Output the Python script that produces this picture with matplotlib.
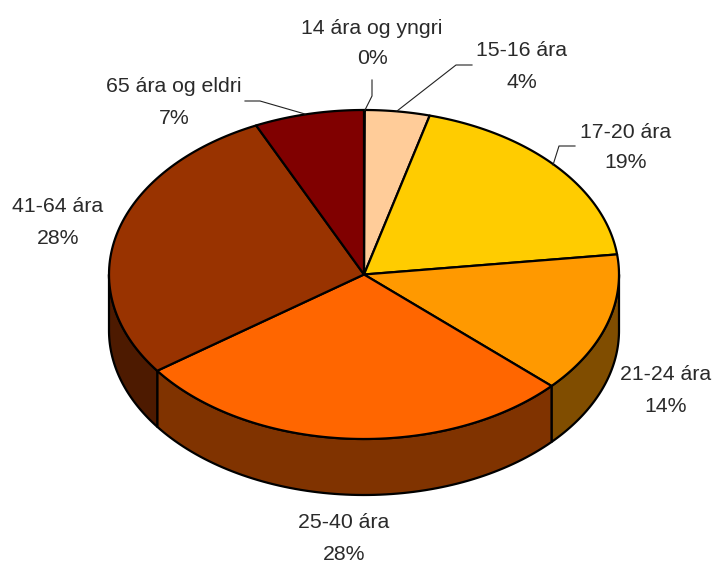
import numpy as np
import matplotlib
matplotlib.use('Agg')
import matplotlib.pyplot as plt
from matplotlib.patches import Polygon

categories = ['14 ára og yngri', '15-16 ára', '17-20 ára', '21-24 ára',
              '25-40 ára', '41-64 ára', '65 ára og eldri']
values = [0.05, 4.1, 18.9, 13.8, 28.2, 28.0, 6.95]
percent_labels = ['0%', '4%', '19%', '14%', '28%', '28%', '7%']

top_colors = ['#FFFF99', '#FFCC99', '#FFCC00', '#FF9900', '#FF6600', '#993300', '#800000']
side_colors = ['#808050', '#80664D', '#806600', '#804D00', '#803300', '#4D1A00', '#400000']

# label centres in pixels, name line then percent line
label_x = [372, 522, 626, 666, 344, 58, 174]
name_y = [28, 50, 132, 375, 522, 206, 86]
pct_y = [59, 82, 163, 407, 554, 239, 118]

# leader lines
leaders = {
    0: [(365, 110), (372, 96), (372, 80)],
    1: [(397, 111), (456, 65), (472, 65)],
    2: [(553, 165), (559, 146), (575, 146)],
    6: [(305, 114), (260, 101), (245, 101)],
}

cx, cy = 364, 274.5
rx, ry = 255, 164.5
depth = 56


def rim(t):
    return cx + rx * np.sin(t), cy - ry * np.cos(t)


fig = plt.figure(figsize=(7.17, 5.63), dpi=100)
ax = fig.add_axes([0, 0, 1, 1])
ax.set_xlim(0, 717)
ax.set_ylim(563, 0)
ax.axis('off')

edges = np.cumsum([0] + values) / sum(values) * 2 * np.pi

# side walls, only the front half of the pie shows
for i in range(len(values)):
    a = max(edges[i], np.pi / 2)
    b = min(edges[i + 1], 3 * np.pi / 2)
    if a >= b:
        continue
    t = np.linspace(a, b, 80)
    x, y = rim(t)
    pts = np.r_[np.c_[x, y], np.c_[x, y + depth][::-1]]
    ax.add_patch(Polygon(pts, facecolor=side_colors[i], edgecolor='black', lw=1.6, joinstyle='round'))

# top face
for i in range(len(values)):
    t = np.linspace(edges[i], edges[i + 1], 80)
    x, y = rim(t)
    pts = np.r_[[[cx, cy]], np.c_[x, y]]
    ax.add_patch(Polygon(pts, facecolor=top_colors[i], edgecolor='black', lw=1.6, joinstyle='round'))

for i, line in leaders.items():
    xs, ys = zip(*line)
    ax.plot(xs, ys, color='#222222', lw=0.8)

for i in range(len(categories)):
    ax.text(label_x[i], name_y[i], categories[i], ha='center', va='center',
            family='Liberation Sans', fontsize=15.3, color='#2a2a2a')
    ax.text(label_x[i], pct_y[i], percent_labels[i], ha='center', va='center',
            family='Liberation Sans', fontsize=15.3, color='#2a2a2a')

fig.savefig('out.png', dpi=100)
